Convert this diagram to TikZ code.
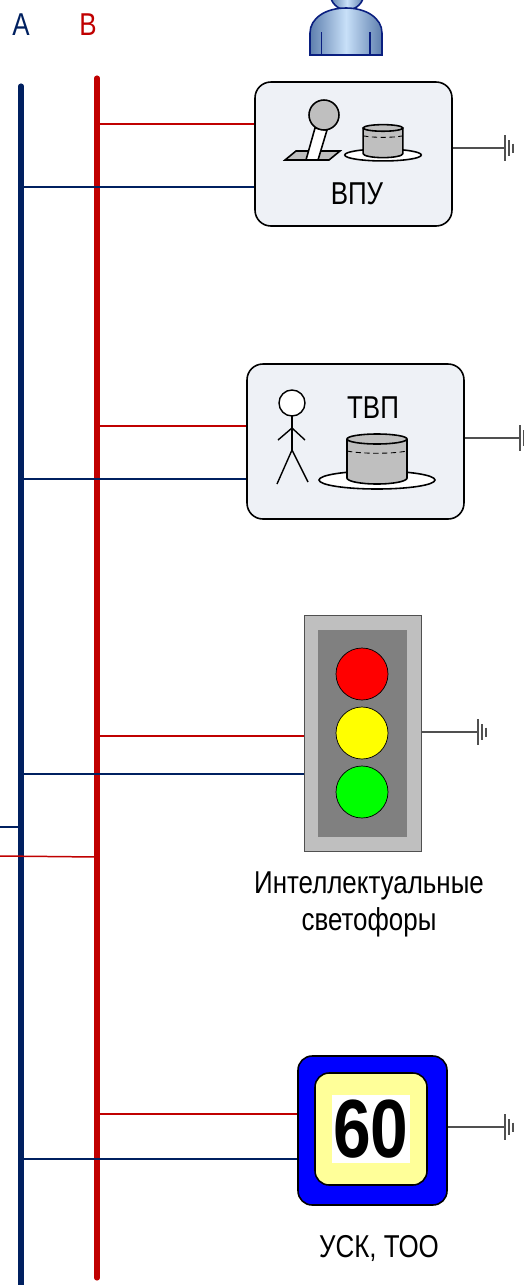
\documentclass[tikz,border=0pt]{standalone}
\usepackage{fontspec}
\setmainfont{Liberation Sans}
\usetikzlibrary{positioning,calc}
\definecolor{busblue}{HTML}{002060}
\definecolor{busred}{HTML}{C00000}
\definecolor{panelfill}{HTML}{EEF1F6}
\definecolor{drumgray}{HTML}{BFBFBF}
\definecolor{signyellow}{HTML}{FFFF99}
\definecolor{lampyellow}{HTML}{FFFF00}
\definecolor{gndgray}{HTML}{505050}
\definecolor{personedge}{HTML}{0A1F80}
\definecolor{personside}{HTML}{5E7FAE}
\definecolor{personmid}{HTML}{C8E0F8}
\newcommand{\lbl}[1]{\scalebox{.82}[1]{#1}}
\tikzset{
  busline/.style={line width=2.9pt, line cap=round},
  tapline/.style={line width=.85pt},
  panel/.style={draw=black, fill=panelfill, line width=.9pt, rounded corners=9pt, inner sep=0pt},
  caption/.style={font=\fontsize{18}{21}\selectfont, inner sep=0pt, align=center},
  icon/.style={draw=black, line width=.9pt},
  persona/.style={draw=personedge, line width=.9pt, left color=personside, right color=personside, middle color=personmid},
  gndbar/.pic={
    \draw[gndgray, line width=1pt] (0,-13) -- (0,13);
    \draw[gndgray, line width=.6pt] (4,-8) -- (4,8);
    \draw[gndgray, line width=.6pt] (8,-4.5) -- (8,4.5);
  },
  drum/.pic={
    \draw[icon, fill=white] (0,0) ellipse [x radius=58, y radius=9];
    \draw[icon, fill=drumgray] (-30,-40) -- (-30,-2) arc [start angle=180, end angle=0, x radius=30, y radius=6] -- (30,-40) -- cycle;
    \draw[icon, fill=drumgray] (0,-41) ellipse [x radius=30, y radius=5];
    \draw[black, line width=.5pt, densely dashed] (-30,-29) .. controls (-15,-26) and (15,-26) .. (30,-29);
  }
}
\begin{document}
\begin{tikzpicture}[x=0.02cm, y=-0.02cm]
  \useasboundingbox (0,0) rectangle (524,1285);
  \clip (0,0) rectangle (524,1285);

  % buses
  \coordinate (atop) at (21,86);
  \coordinate (abot) at (21,1290);
  \coordinate (btop) at (97,78);
  \coordinate (bbot) at (97,1278);
  \node[caption, text=busblue] (alabel) at (21,25) {\lbl{A}};
  \node[caption, text=busred] (blabel) at (88,25) {\lbl{B}};

  % operator
  \draw[persona] (347,-7) circle (17);
  \draw[persona] (310,55) -- (310,33) .. controls (310,18) and (326,8) .. (346,8) .. controls (366,8) and (382,18) .. (382,33) -- (382,55) -- cycle;
  \draw[personedge, line width=.7pt] (321.5,32) -- (321.5,55);
  \draw[personedge, line width=.7pt] (370,32) -- (370,55);

  % panels
  \node[panel, minimum width=3.94cm, minimum height=2.88cm] (vpu) at (353.5,154) {};
  \node[panel, minimum width=4.34cm, minimum height=3.1cm] (tvp) at (355.5,441.5) {};
  \node[draw=gndgray, fill=drumgray, line width=.5pt, minimum width=2.34cm, minimum height=4.72cm, inner sep=0pt] (light) at (362.5,733) {};
  \node[draw=black, fill=blue, line width=.9pt, rounded corners=8pt, minimum width=2.98cm, minimum height=2.98cm, inner sep=0pt] (sign) at (372.5,1130.5) {};

  % taps
  \coordinate (rvpu) at (97,124);
  \coordinate (bvpu) at (21,187);
  \coordinate (rtvp) at (97,426);
  \coordinate (btvp) at (21,479);
  \coordinate (rlight) at (97,736);
  \coordinate (blight) at (21,774);
  \coordinate (rsign) at (97,1114);
  \coordinate (bsign) at (21,1159);
  \coordinate (bstub) at (21,827);
  \coordinate (bstubend) at (0,827);
  \coordinate (rstub) at (97,857);
  \coordinate (rstubend) at (0,856);

  \draw[busblue, busline] (atop) -- (abot);
  \draw[busred, busline] (btop) -- (bbot);
  \draw[busred, tapline] (rvpu) -- (rvpu -| vpu.west);
  \draw[busred, tapline] (rtvp) -- (rtvp -| tvp.west);
  \draw[busred, tapline] (rlight) -- (rlight -| light.west);
  \draw[busred, tapline] (rsign) -- (rsign -| sign.west);
  \draw[busblue, tapline] (bvpu) -- (bvpu -| vpu.west);
  \draw[busblue, tapline] (btvp) -- (btvp -| tvp.west);
  \draw[busblue, tapline] (blight) -- (blight -| light.west);
  \draw[busblue, tapline] (bsign) -- (bsign -| sign.west);
  \draw[busblue, tapline] (bstub) -- (bstubend);
  \draw[busred, tapline] (rstub) -- (rstubend);

  % earth
  \coordinate (gvpu) at (505,148);
  \coordinate (gtvp) at (520,438);
  \coordinate (glight) at (478,732);
  \coordinate (gsign) at (505,1127);
  \draw[gndgray, tapline] (vpu.east |- gvpu) -- (gvpu);
  \draw[gndgray, tapline] (tvp.east |- gtvp) -- (gtvp);
  \draw[gndgray, tapline] (light.east |- glight) -- (glight);
  \draw[gndgray, tapline] (sign.east |- gsign) -- (gsign);
  \pic at (gvpu) {gndbar};
  \pic at (gtvp) {gndbar};
  \pic at (glight) {gndbar};
  \pic at (gsign) {gndbar};

  % joystick and drum
  \draw[icon, fill=drumgray] (285,160) -- (296,151) -- (340,151) -- (329,160) -- cycle;
  \draw[icon, fill=white] (315,128) -- (306,160) -- (318,160) -- (327,130) -- cycle;
  \draw[icon, fill=drumgray] (324,115) circle (15);
  \pic[scale=.66] at (383,155) {drum};
  \node[caption] (vpulabel) at (357,194) {\lbl{ВПУ}};

  % stick man and drum
  \draw[black, line width=.8pt, fill=white] (292,403) circle (13);
  \draw[black, line width=.8pt] (292,416) -- (292,450);
  \draw[black, line width=.8pt] (278,440) -- (292,428) -- (305,440);
  \draw[black, line width=.8pt] (277,484) -- (292,450) -- (308,482);
  \pic at (377,480) {drum};
  \node[caption] (tvplabel) at (373,408) {\lbl{ТВП}};

  % traffic light
  \node[fill=gray, minimum width=1.78cm, minimum height=4.14cm, inner sep=0pt] (lighthead) at (362.5,733.5) {};
  \draw[black, line width=.4pt, fill=red] (362,674) circle (26);
  \draw[black, line width=.4pt, fill=lampyellow] (362,733) circle (26);
  \draw[black, line width=.4pt, fill=green] (362,792) circle (26);
  \node[caption, anchor=north] (lightlabel) at (369,871) {\lbl{Интеллектуальные}\\\lbl{светофоры}};

  % speed sign
  \node[draw=black, fill=signyellow, line width=.9pt, rounded corners=8pt, minimum width=2.24cm, minimum height=2.24cm, inner sep=0pt] (signface) at (371,1129) {};
  \node[fill=white, minimum width=1.56cm, minimum height=1.36cm, inner sep=0pt, font=\bfseries\fontsize{47}{47}\selectfont] (signvalue) at (371,1129) {\scalebox{.82}[1]{60}};
  \node[caption] (signlabel) at (379,1248) {\lbl{УСК, ТОО}};
\end{tikzpicture}
\end{document}
